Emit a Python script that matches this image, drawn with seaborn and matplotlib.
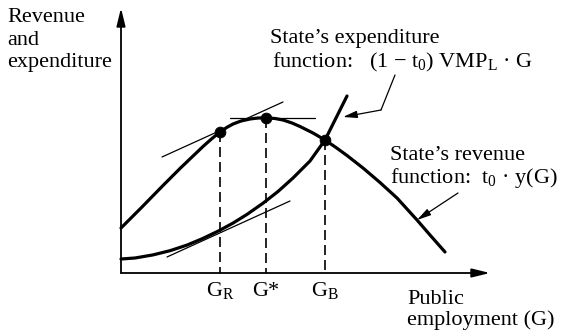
import matplotlib
matplotlib.use("Agg")
import matplotlib.pyplot as plt
import seaborn as sns
import pandas as pd

# ---- data (G = public employment, values = revenue/expenditure) ----
rev_G = [0, 2.1, 4.2, 5.9, 7.1, 8.2, 9.1, 9.9, 10.6, 11.2, 12.0, 12.9, 13.7, 14.5,
         15.4, 16.2, 17.1, 17.9, 19.2, 20.4, 21.5, 22.6, 24.2, 25.9, 27.6, 29.6, 30.9, 32.4]
rev_V = [4.5, 6.6, 8.75, 10.45, 11.6, 12.65, 13.45, 14.1, 14.57, 14.9, 15.2, 15.4, 15.5, 15.52,
         15.45, 15.3, 15.0, 14.65, 14.0, 13.3, 12.55, 11.75, 10.5, 9.05, 7.5, 5.3, 3.8, 2.1]

exp_G = [0, 1.4, 3.2, 4.9, 6.6, 8.2, 9.8, 11.2, 12.6, 14.2, 15.7, 17.2, 18.9, 20.4, 21.6, 22.6]
exp_V = [1.4, 1.5, 1.81, 2.23, 2.79, 3.46, 4.23, 4.99, 5.86, 6.98, 8.15, 9.5, 11.2, 13.3, 15.7, 17.7]

# key points: G_R, G*, G_B
key_labels = ["G$_\\mathrm{R}$", "G*", "G$_\\mathrm{B}$"]
key_G = [9.9, 14.5, 20.4]
key_V = [14.1, 15.52, 13.3]

# tangent lines (start/end)
tan_rev_G = [4.1, 16.2]
tan_rev_V = [11.6, 17.1]
tan_top_G = [10.9, 19.4]
tan_top_V = [15.55, 15.55]
tan_exp_G = [4.6, 16.9]
tan_exp_V = [1.6, 7.2]

x_axis_end = 36.9
y_axis_end = 26.5

sns.set_theme(style="white")
plt.rcParams["font.family"] = ["Liberation Serif", "DejaVu Serif"]
plt.rcParams["mathtext.fontset"] = "custom"
plt.rcParams["mathtext.rm"] = "Liberation Serif"
plt.rcParams["mathtext.it"] = "Liberation Serif:italic"

fig = plt.figure(figsize=(5.66, 3.35), dpi=100)
ax = fig.add_axes([0, 0, 1, 1])
ax.set_xlim(-12.1, 44.5)
ax.set_ylim(-6.2, 27.3)
ax.axis("off")

K = "black"

# axes with arrows
ax.annotate("", xy=(0, y_axis_end), xytext=(0, 0),
            arrowprops=dict(arrowstyle="-|>,head_length=0.9,head_width=0.22", color=K, lw=1.3, shrinkA=0, shrinkB=0))
ax.annotate("", xy=(x_axis_end, 0), xytext=(0, 0),
            arrowprops=dict(arrowstyle="-|>,head_length=0.9,head_width=0.22", color=K, lw=1.3, shrinkA=0, shrinkB=0))

# curves
rev = pd.DataFrame({"G": rev_G, "V": rev_V})
exp = pd.DataFrame({"G": exp_G, "V": exp_V})
sns.lineplot(data=rev, x="G", y="V", ax=ax, color=K, lw=2.3, estimator=None, sort=False)
sns.lineplot(data=exp, x="G", y="V", ax=ax, color=K, lw=2.3, estimator=None, sort=False)

# tangent lines
for tg, tv in [(tan_rev_G, tan_rev_V), (tan_top_G, tan_top_V), (tan_exp_G, tan_exp_V)]:
    sns.lineplot(x=tg, y=tv, ax=ax, color=K, lw=0.9, estimator=None, sort=False)

# dashed drop lines
for g, v in zip(key_G, key_V):
    ax.plot([g, g], [v, 0], color=K, lw=1.2, dashes=(6, 3))

# points
pts = pd.DataFrame({"G": key_G, "V": key_V})
sns.scatterplot(data=pts, x="G", y="V", ax=ax, color=K, s=60, edgecolor=K, zorder=5)

fs = 16
# tick labels
for lab, g in zip(key_labels, key_G):
    ax.text(g, -2.3, lab, ha="center", va="baseline", fontsize=fs, color=K)

ax.text(-11.4, 25.1, "Revenue", fontsize=fs, va="baseline", color=K)
ax.text(-11.4, 22.8, "and", fontsize=fs, va="baseline", color=K)
ax.text(-11.4, 20.6, "expenditure", fontsize=fs, va="baseline", color=K)

ax.text(14.9, 23.0, "State\u2019s expenditure", fontsize=fs, va="baseline", color=K)
ax.text(15.1, 20.6, "function:   (1 \u2212 t$_\\mathrm{0}$) VMP$_\\mathrm{L}$ \u00b7 G", fontsize=fs, va="baseline", color=K)

ax.text(26.9, 11.3, "State\u2019s revenue", fontsize=fs, va="baseline", color=K)
ax.text(26.9, 9.0, "function:  t$_\\mathrm{0}$ \u00b7 y(G)", fontsize=fs, va="baseline", color=K)

ax.text(28.6, -3.1, "Public", fontsize=fs, va="baseline", color=K)
ax.text(28.6, -5.2, "employment (G)", fontsize=fs, va="baseline", color=K)

# label pointer arrows
ax.plot([27.4, 26.0], [19.8, 16.3], color=K, lw=0.9)
ax.annotate("", xy=(22.2, 15.6), xytext=(26.0, 16.3),
            arrowprops=dict(arrowstyle="-|>,head_length=0.7,head_width=0.18", color=K, lw=0.9, shrinkA=0, shrinkB=0))
ax.annotate("", xy=(29.6, 5.3), xytext=(33.7, 8.0),
            arrowprops=dict(arrowstyle="-|>,head_length=0.7,head_width=0.18", color=K, lw=0.9, shrinkA=0, shrinkB=0))

fig.savefig("out.png", dpi=100, facecolor="white")
